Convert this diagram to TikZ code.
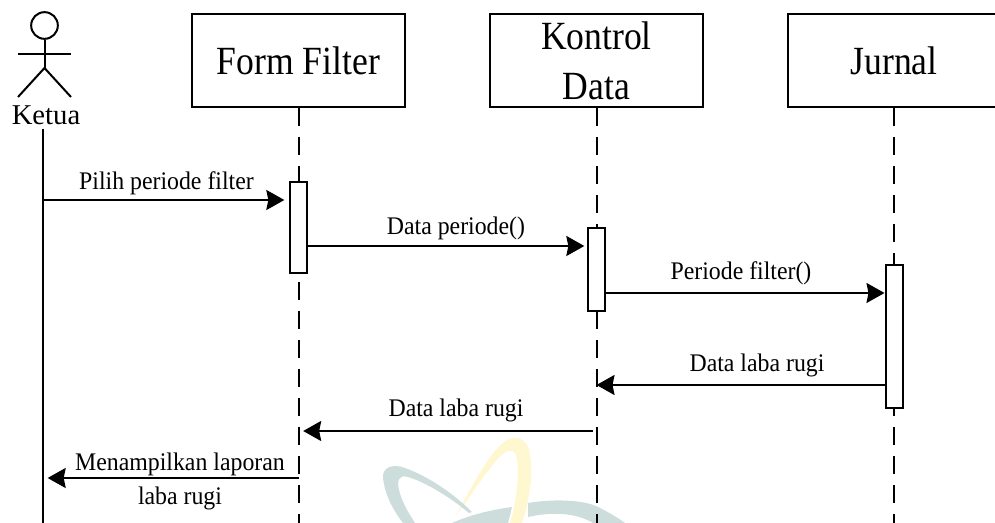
\documentclass[tikz,border=0pt]{standalone}
\usepackage{fontspec}
\setmainfont{Liberation Serif}
\newfontfamily\headfont[FakeStretch=0.89]{Liberation Serif}
\newfontfamily\msgfont[FakeStretch=0.94]{Liberation Serif}
\usetikzlibrary{arrows.meta}
\definecolor{wmteal}{HTML}{CCDDDC}
\definecolor{wmyellow}{HTML}{FFF7D0}

\begin{document}
\begin{tikzpicture}[x=0.75pt, y=-0.75pt]
        % ================= styles =================
        \tikzset{
            % header box of a participant
            headbox/.style={rectangle, draw=black, line width=1.5pt, fill=white, minimum width=159.75pt, minimum height=69.75pt, inner sep=0pt, align=center, font=\headfont\fontsize{30}{37.5}\selectfont},
            % thin white activation bar
            actbar/.style={rectangle, draw=black, line width=1.5pt, fill=white, minimum width=12.75pt, inner sep=0pt},
            % message text
            msgtext/.style={inner sep=0pt, font=\msgfont\fontsize{19}{24}\selectfont},
            % the actor figure
            actorline/.style={line width=1.5pt, black},
            % solid and dashed lifelines
            lifeline/.style={line width=1.5pt, black},
            dashline/.style={line width=1.5pt, black, dash pattern=on 13.5pt off 8.25pt},
            % message arrow
            msgarrow/.style={line width=1.5pt, black, -{Stealth[length=13.5pt, width=15pt, inset=1.5pt]}}
        }
        \useasboundingbox (0,0) rectangle (995,523);
        \clip (0,0) rectangle (995,523);

        % ================= watermark =================
        \fill[wmyellow] (455,517) .. controls (470,490) and (490,450) .. (507,440) .. controls (515,435) and (525,438) .. (529,449) .. controls (534,470) and (530,500) .. (522,523) -- (510,523) .. controls (517,500) and (521,465) .. (515,453) .. controls (510,448) and (503,452) .. (496,461) .. controls (480,480) and (468,500) .. (455,517) -- cycle;
        \fill[wmteal] (383,478) .. controls (382,468) and (392,463) .. (405,468) .. controls (430,477) and (455,495) .. (472,512) -- (469,513) .. controls (450,497) and (425,482) .. (408,477) .. controls (398,474) and (397,482) .. (399,490) .. controls (402,503) and (410,515) .. (415,523) -- (403,523) .. controls (393,510) and (385,495) .. (383,478) -- cycle;
        \fill[wmteal] (452,523) .. controls (470,515) and (490,510) .. (512,507) -- (508,523) -- cycle;
        \fill[wmteal] (528,503) .. controls (550,499) and (585,499) .. (600,508) .. controls (610,513) and (618,518) .. (625,523) -- (593,523) .. controls (575,512) and (550,512) .. (528,517) -- cycle;

        % ================= lifeline coordinates and message rows =================
        \coordinate (ketua_top) at (43,129);
        \coordinate (ketua_end) at (43,523);
        \coordinate (row_pilih) at (0,200);
        \coordinate (row_periode) at (0,246);
        \coordinate (row_filter) at (0,293);
        \coordinate (row_jurnal) at (0,385);
        \coordinate (row_kontrol) at (0,431);
        \coordinate (row_laporan) at (0,478);

        % ================= participants =================
        \node[headbox] (form) at (298.5,60.5) {Form Filter};
        \node[headbox] (kontrol) at (596.5,60.5) {Kontrol\\Data};
        \node[headbox] (jurnal) at (894,60.5) {Jurnal};

        \coordinate (form_end) at (298.5,523);
        \coordinate (kontrol_end) at (596.5,523);
        \coordinate (jurnal_end) at (894,523);

        % ================= lifelines =================
        \draw[lifeline] (ketua_top) -- (ketua_end);
        \draw[dashline] (form) -- (form_end);
        \draw[dashline] (kontrol) -- (kontrol_end);
        \draw[dashline] (jurnal) -- (jurnal_end);

        % ================= actor =================
        \node[circle, draw=black, line width=1.5pt, minimum size=20pt, inner sep=0pt] (head) at (44.5,25.5) {};
        \coordinate (hip) at (44.5,68);
        \coordinate (arm_l) at (18,54);
        \coordinate (arm_r) at (71,54);
        \coordinate (leg_l) at (18,97);
        \coordinate (leg_r) at (71,97);
        \draw[actorline] (head) -- (hip);
        \draw[actorline] (arm_l) -- (arm_r);
        \draw[actorline] (leg_l) -- (hip) -- (leg_r);
        \node[inner sep=0pt, font=\fontsize{21.5}{26}\selectfont] (ketua) at (46,115) {Ketua};

        % ================= activation bars =================
        \node[actbar, minimum height=68.25pt] (form_act) at (298.5,227.5) {};
        \node[actbar, minimum height=62.25pt] (kontrol_act) at (596.5,269.5) {};
        \node[actbar, minimum height=107.25pt] (jurnal_act) at (894,336.5) {};

        % ================= messages =================
        \draw[msgarrow, shorten >=3.5pt] (ketua_top |- row_pilih) -- (form_act.west |- row_pilih);
        \draw[msgarrow, shorten >=2pt] (form_act.east |- row_periode) -- (kontrol_act.west |- row_periode);
        \draw[msgarrow] (kontrol_act.east |- row_filter) -- (jurnal_act.west |- row_filter);
        \draw[msgarrow] (jurnal_act.west |- row_jurnal) -- (kontrol_end |- row_jurnal);
        \draw[msgarrow, shorten >=3.5pt, shorten <=3pt] (kontrol_end |- row_kontrol) -- (form_end |- row_kontrol);
        \draw[msgarrow, shorten >=3.5pt] (form_end |- row_laporan) -- (ketua_end |- row_laporan);

        % ================= message labels =================
        \node[msgtext] (lbl_pilih) at (166.5,183) {Pilih periode filter};
        \node[msgtext] (lbl_periode) at (456,228) {Data periode()};
        \node[msgtext] (lbl_filter) at (741,273) {Periode filter()};
        \node[msgtext] (lbl_jurnal) at (757,365) {Data laba rugi};
        \node[msgtext] (lbl_kontrol) at (456,410) {Data laba rugi};
        \node[msgtext] (lbl_laporan) at (180,464) {Menampilkan laporan};
        \node[msgtext] (lbl_rugi) at (180,498) {laba rugi};

\end{tikzpicture}
\end{document}
